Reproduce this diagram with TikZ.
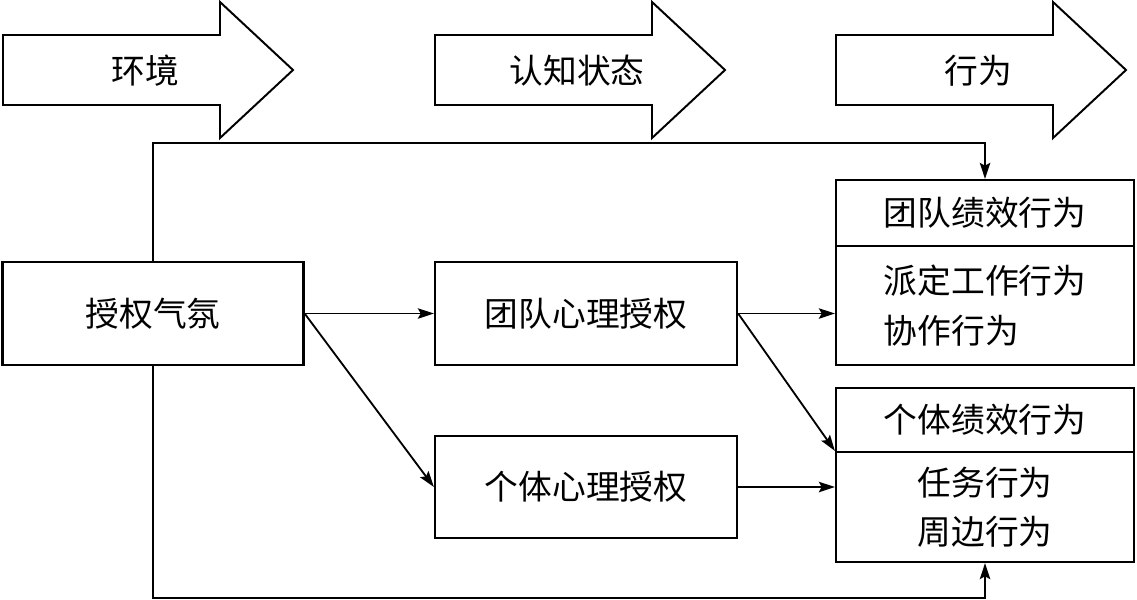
\documentclass[tikz,border=0pt]{standalone}
\usepackage{fontspec}
\newfontfamily\cjk{Noto Sans CJK SC}
\usetikzlibrary{arrows.meta}

\tikzset{
  box/.style={draw, line width=1.6pt, inner sep=0pt, align=center},
  conn/.style={line width=1.3pt, -{Stealth[length=0.4cm,width=0.26cm,inset=0.07cm]}},
  bigarrow/.style={draw, line width=1.4pt, line join=miter}
}

\begin{document}
\begin{tikzpicture}[x=0.025cm,y=-0.025cm,font=\cjk\fontsize{24}{35}\selectfont]
      \useasboundingbox (0,0) rectangle (1137,599);
      % big arrows on top
      \foreach \dx/\name/\txt in {0/env/环境, 432/cog/认知状态, 833/act/行为} {
        \draw[bigarrow] (3+\dx,35) -- (220+\dx,35) -- (220+\dx,2) -- (293+\dx,70)
          -- (220+\dx,138) -- (220+\dx,105) -- (3+\dx,105) -- cycle;
        \node (\name) at (145+\dx,71) {\txt};
      }
      % boxes
      \node[box, minimum width=301*0.025cm, minimum height=103*0.025cm] (qf) at (153,313.5) {授权气氛};
      \node[box, minimum width=302*0.025cm, minimum height=103*0.025cm] (tdql) at (586,313.5) {团队心理授权};
      \node[box, minimum width=302*0.025cm, minimum height=102*0.025cm] (gtql) at (586,487) {个体心理授权};
      \node[box, minimum width=298*0.025cm, minimum height=66*0.025cm] (tdjx) at (985,213) {团队绩效行为};
      \node[box, minimum width=298*0.025cm, minimum height=119*0.025cm, align=left] (tdxw) at (985,305.5) {派定工作行为\\协作行为};
      \node[box, minimum width=298*0.025cm, minimum height=64*0.025cm] (gtjx) at (985,420) {个体绩效行为};
      \node[box, minimum width=298*0.025cm, minimum height=110*0.025cm] (gtxw) at (985,507) {任务行为\\周边行为};
      % connectors
      \coordinate (top) at (153,143);
      \coordinate (bot) at (153,598);
      \draw[conn] (qf.north) -- (top) -| (tdjx.north);
      \draw[conn] (qf.south) -- (bot) -| (gtxw.south);
      \draw[conn] (qf.east) -- (tdql.west);
      \draw[conn] (qf.east) -- (gtql.west);
      \draw[conn] (tdql.east) -- (tdql.east -| tdxw.west);
      \draw[conn] (tdql.east) -- (gtxw.north west);
      \draw[conn] (gtql.east) -- (gtql.east -| gtxw.west);
\end{tikzpicture}
\end{document}
